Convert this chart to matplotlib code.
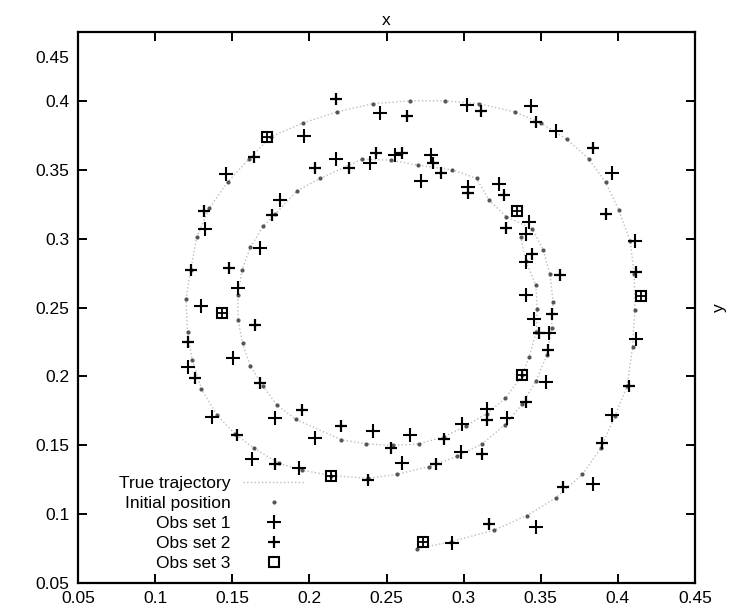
import matplotlib
matplotlib.use("Agg")
import matplotlib.pyplot as plt
import matplotlib.transforms as mtransforms

plt.rcParams['font.family'] = ['Liberation Sans', 'DejaVu Sans']

# true trajectory samples
traj_x = [0.270, 0.292, 0.320, 0.341, 0.360, 0.377, 0.389, 0.398, 0.406, 0.4095,
          0.411, 0.4106, 0.408, 0.4005, 0.392, 0.381, 0.367, 0.350, 0.333, 0.310,
          0.288, 0.265, 0.241, 0.218, 0.196, 0.175, 0.161, 0.147, 0.135, 0.127,
          0.123, 0.120, 0.121, 0.124, 0.130, 0.140, 0.152, 0.164, 0.180, 0.195,
          0.214, 0.238, 0.257, 0.2775, 0.296, 0.312, 0.327, 0.338, 0.347, 0.354,
          0.357, 0.358, 0.356, 0.3515, 0.3446, 0.3277, 0.3164, 0.3084, 0.2925, 0.2703,
          0.2526, 0.234, 0.207, 0.192, 0.178, 0.170, 0.1617, 0.1563, 0.1537, 0.1537,
          0.1567, 0.1617, 0.170, 0.179, 0.191, 0.2206, 0.237, 0.254, 0.271, 0.287,
          0.3013, 0.315, 0.327, 0.338, 0.3424, 0.347, 0.3478, 0.3468, 0.3403, 0.337]
traj_y = [0.075, 0.080, 0.0885, 0.099, 0.112, 0.129, 0.148, 0.171, 0.193, 0.221,
          0.248, 0.274, 0.298, 0.321, 0.341, 0.358, 0.372, 0.384, 0.392, 0.398,
          0.400, 0.400, 0.398, 0.392, 0.384, 0.374, 0.358, 0.341, 0.322, 0.301,
          0.277, 0.256, 0.232, 0.212, 0.191, 0.172, 0.158, 0.148, 0.137, 0.132,
          0.128, 0.126, 0.129, 0.1345, 0.142, 0.151, 0.165, 0.180, 0.197, 0.2155,
          0.235, 0.254, 0.274, 0.292, 0.307, 0.316, 0.328, 0.3437, 0.350, 0.3533,
          0.357, 0.3575, 0.3437, 0.3347, 0.318, 0.309, 0.2936, 0.277, 0.259, 0.241,
          0.224, 0.2075, 0.193, 0.179, 0.169, 0.154, 0.151, 0.150, 0.151, 0.156,
          0.164, 0.173, 0.184, 0.201, 0.214, 0.232, 0.249, 0.266, 0.284, 0.301]

# observation set 1
obs1_x = [0.2927, 0.3468, 0.384, 0.3961, 0.4117, 0.4112, 0.3961, 0.3602, 0.3435, 0.3024,
          0.246, 0.1968, 0.1459, 0.1325, 0.130, 0.1216, 0.1368, 0.1628, 0.1931, 0.2602,
          0.2981, 0.3284, 0.3532, 0.3554, 0.3457, 0.3403, 0.3403, 0.3403, 0.3424, 0.3229,
          0.3028, 0.2721, 0.2786, 0.2558, 0.2396, 0.2175, 0.181, 0.168, 0.154, 0.1508,
          0.1779, 0.2039, 0.2414, 0.2651, 0.2992, 0.3154]
obs1_y = [0.079, 0.0909, 0.1218, 0.1719, 0.2268, 0.298, 0.3473, 0.3782, 0.396, 0.397,
          0.3913, 0.3744, 0.347, 0.307, 0.251, 0.207, 0.1707, 0.1397, 0.1332, 0.1369,
          0.1453, 0.1695, 0.1961, 0.2312, 0.242, 0.259, 0.2832, 0.3033, 0.3122, 0.3396,
          0.3376, 0.342, 0.3606, 0.3606, 0.355, 0.358, 0.328, 0.293, 0.264, 0.2131,
          0.1697, 0.1556, 0.1605, 0.1574, 0.1654, 0.1766]

# observation set 2
obs2_x = [0.3164, 0.3641, 0.3896, 0.4069, 0.4117, 0.3922, 0.384, 0.3468, 0.311, 0.2634,
          0.2175, 0.1639, 0.132, 0.1234, 0.1216, 0.126, 0.153, 0.1779, 0.2379, 0.2818,
          0.3121, 0.3407, 0.355, 0.3489, 0.3576, 0.3623, 0.3446, 0.3273, 0.3262, 0.3028,
          0.2855, 0.2803, 0.2602, 0.2429, 0.2255, 0.2039, 0.176, 0.1476, 0.1649, 0.1682,
          0.1953, 0.2208, 0.2526, 0.2872, 0.3154]
obs2_y = [0.0928, 0.1194, 0.1518, 0.193, 0.276, 0.318, 0.366, 0.3848, 0.393, 0.389,
          0.4017, 0.359, 0.320, 0.277, 0.2252, 0.1985, 0.1574, 0.1363, 0.1247, 0.1364,
          0.1436, 0.1816, 0.2191, 0.2312, 0.2452, 0.2735, 0.2885, 0.3078, 0.3316, 0.333,
          0.3473, 0.3546, 0.3623, 0.3623, 0.351, 0.351, 0.317, 0.279, 0.2372, 0.1949,
          0.1759, 0.1639, 0.1477, 0.1543, 0.1683]

# observation set 3
obs3_x = [0.2738, 0.415, 0.1725, 0.2141, 0.3349, 0.1433, 0.3381]
obs3_y = [0.080, 0.258, 0.374, 0.128, 0.320, 0.2457, 0.201]

fig = plt.figure(figsize=(7.36, 6.13), dpi=100)
ax = fig.add_axes([0.106, 0.0489, 0.8383, 0.8989])

ax.plot(traj_x, traj_y, linestyle=':', color='#bdbdbd', linewidth=1.0, label='True trajectory')
ax.plot(traj_x, traj_y, linestyle='none', marker='o', markersize=3, color='#555555',
        markeredgewidth=0, label='Initial position')
ax.plot(obs1_x, obs1_y, linestyle='none', marker='+', markersize=10, markeredgewidth=1.5,
        color='black', label='Obs set 1')
ax.plot(obs2_x, obs2_y, linestyle='none', marker='+', markersize=8.5, markeredgewidth=1.6,
        color='black', label='Obs set 2')
ax.plot(obs3_x, obs3_y, linestyle='none', marker='s', markersize=7.5, markeredgewidth=1.5,
        markerfacecolor='none', color='black', label='Obs set 3')
ax.plot(obs3_x, obs3_y, linestyle='none', marker='+', markersize=7, markeredgewidth=1.3,
        color='black')

ax.set_xlim(0.05, 0.45)
ax.set_ylim(0.05, 0.45)
xt = [0.05, 0.1, 0.15, 0.2, 0.25, 0.3, 0.35, 0.4, 0.45]
ax.set_xticks(xt)
ax.set_yticks(xt)
ax.set_xticklabels(['0.05', '0.1', '0.15', '0.2', '0.25', '0.3', '0.35', '0.4', '0.45'])
ax.set_yticklabels(['0.05', '0.1', '0.15', '0.2', '0.25', '0.3', '0.35', '0.4', '0.45'])
ax.tick_params(direction='in', length=6.5, width=1.4, top=True, right=True,
               labelsize=12.5, pad=6)
for s in ax.spines.values():
    s.set_linewidth(1.6)

# the top y label sits lower in the original
lab = ax.get_yticklabels()[-1]
lab.set_transform(lab.get_transform() + mtransforms.ScaledTranslation(0, -25 / 100, fig.dpi_scale_trans))

ax.set_xlabel('x', fontsize=12.5, labelpad=5)
ax.xaxis.set_label_position('top')
ax.set_ylabel('y', fontsize=12.5, labelpad=12, rotation=90)
ax.yaxis.set_label_position('right')

ax.legend(loc='lower right', bbox_to_anchor=(0.368, 0.022), frameon=False, markerfirst=False,
          fontsize=12.5, handlelength=3.6, handletextpad=0.7, labelspacing=0.28,
          borderpad=0, borderaxespad=0, numpoints=1)

fig.savefig('out.png', dpi=100)
